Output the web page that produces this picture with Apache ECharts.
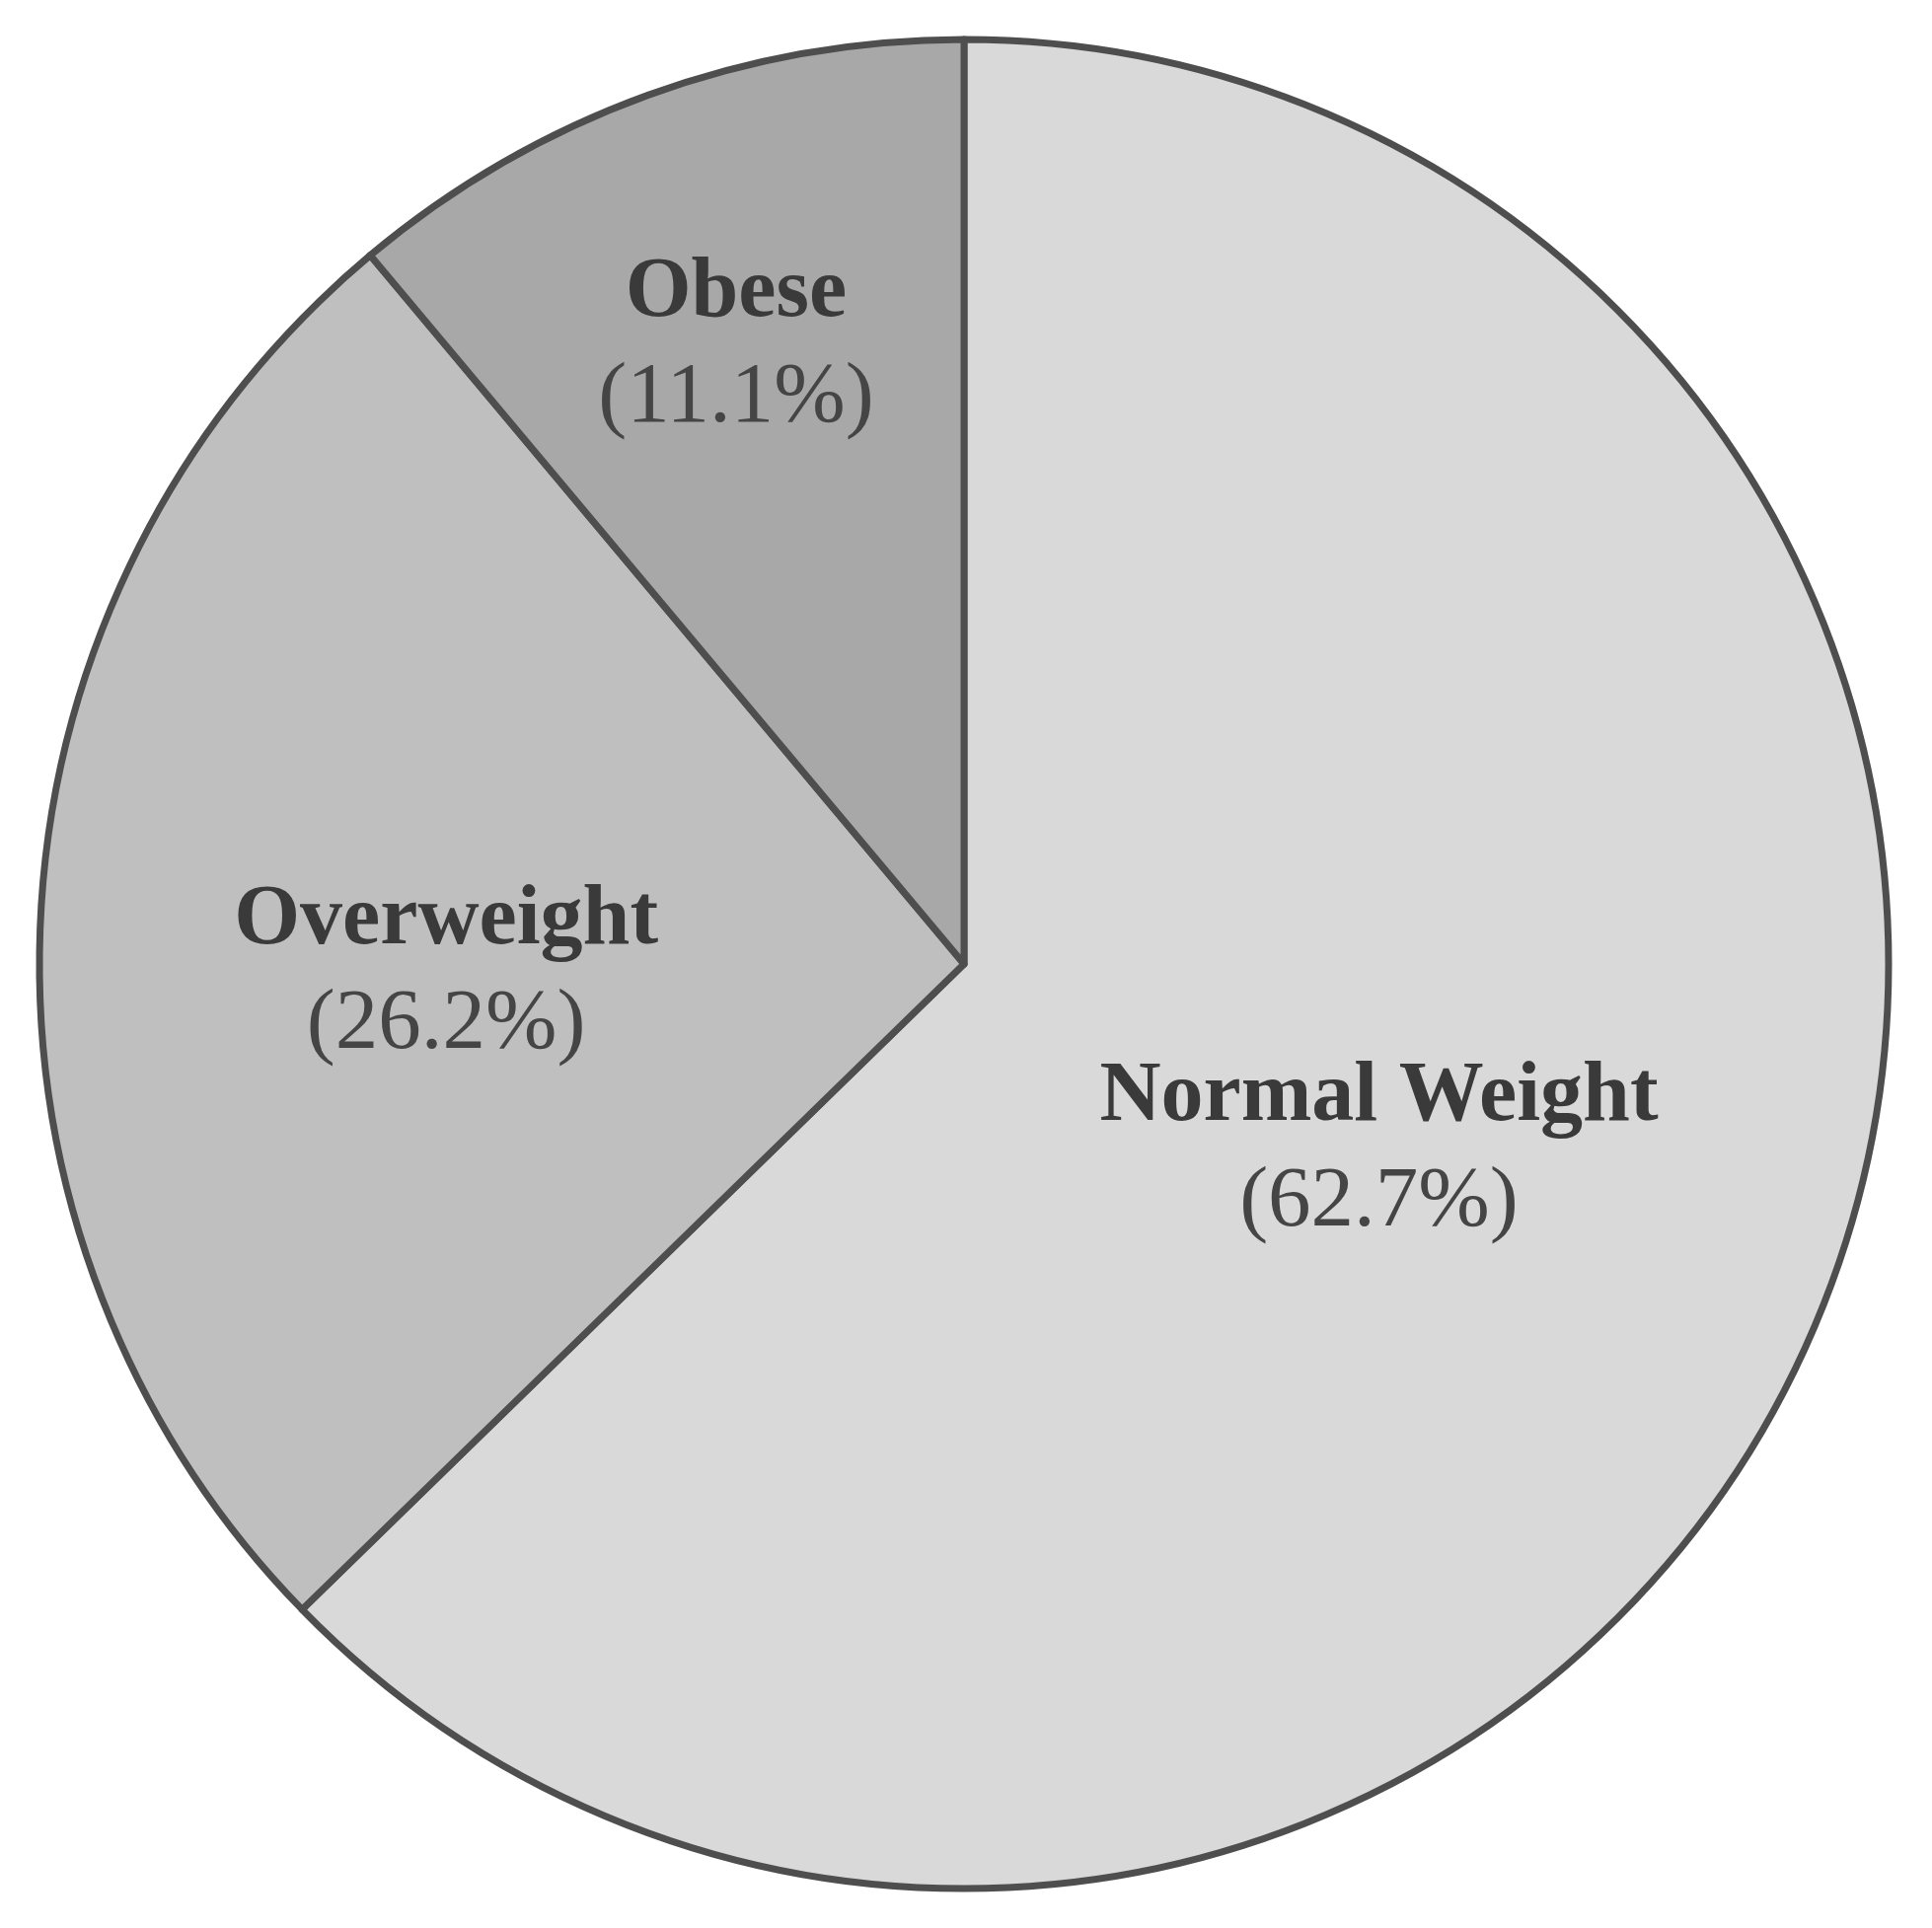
<!DOCTYPE html>
<html>
<head>
<meta charset="utf-8">
<script src="https://cdn.jsdelivr.net/npm/echarts@6/dist/echarts.min.js"></script>
<style>
html,body{margin:0;padding:0;background:#fff;}
#chart{width:1958px;height:1954px;}
</style>
</head>
<body>
<div id="chart"></div>
<script>
const categories = ["Normal Weight", "Overweight", "Obese"];
const values = [62.7, 26.2, 11.1];
const valueLabels = ["(62.7%)", "(26.2%)", "(11.1%)"];

const sliceColors = ["#d9d9d9", "#bfbfbf", "#a8a8a8"];
const labelShift = [[-14, 6], [-54, 33], [-70, -183]];

const chart = echarts.init(document.getElementById('chart'), null, {renderer: 'canvas'});
chart.setOption({
  backgroundColor: '#ffffff',
  animation: false,
  series: [{
    type: 'pie',
    center: [977, 977],
    radius: [0, 937],
    startAngle: 90,
    clockwise: true,
    avoidLabelOverlap: false,
    emphasis: {disabled: true},
    itemStyle: {borderColor: '#4e4e4e', borderWidth: 7},
    label: {
      show: true,
      position: 'inside',
      formatter: function (p) {
        return '{n|' + p.name + '}\n{v|' + valueLabels[p.dataIndex] + '}';
      },
      rich: {
        n: {fontFamily: 'Liberation Serif', fontWeight: 'bold', fontSize: 86, color: '#3a3a3a', lineHeight: 106, align: 'center'},
        v: {fontFamily: 'Liberation Serif', fontWeight: 'normal', fontSize: 87, color: '#454545', lineHeight: 106, align: 'center'}
      }
    },
    labelLine: {show: false},
    labelLayout: function (p) {
      const s = labelShift[p.dataIndex];
      return {dx: s[0], dy: s[1]};
    },
    data: categories.map(function (c, i) {
      return {name: c, value: values[i], itemStyle: {color: sliceColors[i]}};
    })
  }]
});
</script>
</body>
</html>
